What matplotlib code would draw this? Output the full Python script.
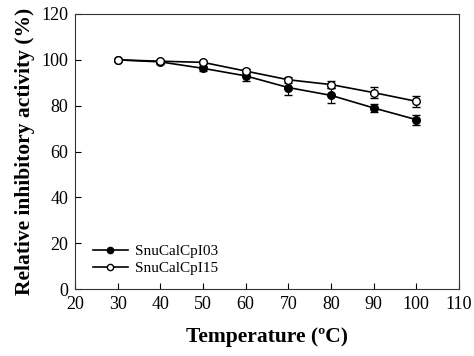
import matplotlib.pyplot as plt
from matplotlib.lines import Line2D

temps = [30, 40, 50, 60, 70, 80, 90, 100]
act_i03 = [100, 99.1, 96.3, 93.0, 87.9, 84.5, 79.0, 73.9]
err_i03 = [0.5, 0.8, 1.0, 2.3, 3.2, 3.4, 1.7, 2.2]
act_i15 = [100, 99.4, 98.9, 95.1, 91.3, 89.2, 85.7, 81.9]
err_i15 = [0.5, 0.6, 0.8, 1.0, 1.2, 1.6, 2.4, 2.5]
labels = ['SnuCalCpI03', 'SnuCalCpI15']

plt.rcParams['font.family'] = ['Liberation Serif', 'DejaVu Serif']

fig = plt.figure(figsize=(4.74, 3.56), dpi=100)
ax = fig.add_axes([75 / 474, 1 - 289 / 356, 384 / 474, 275 / 356])

ax.errorbar(temps, act_i03, yerr=err_i03, color='black', marker='o', markersize=5.5,
            markerfacecolor='black', linewidth=1.2, capsize=3, elinewidth=0.8, zorder=2)
ax.errorbar(temps, act_i15, yerr=err_i15, color='black', marker='o', markersize=5.5,
            markerfacecolor='white', linewidth=1.2, capsize=3, elinewidth=0.8, zorder=3)

ax.set_xlim(20, 110)
ax.set_ylim(0, 120)
ax.set_xticks(range(20, 111, 10))
ax.set_yticks(range(0, 121, 20))
ax.tick_params(direction='in', labelsize=13, length=4, width=0.8, pad=5)
for s in ax.spines.values():
    s.set_linewidth(0.8)
    s.set_color('#333333')

ax.set_xlabel('Temperature (\u00baC)', fontsize=15.5, fontweight='bold', labelpad=10)
ax.set_ylabel('Relative inhibitory activity (%)', fontsize=15.5, fontweight='bold', labelpad=4)

handles = [
    Line2D([], [], color='black', marker='o', markersize=4.5, markerfacecolor='black', linewidth=1.2),
    Line2D([], [], color='black', marker='o', markersize=4.5, markerfacecolor='white', linewidth=1.2),
]
ax.legend(handles, labels, loc='lower left', bbox_to_anchor=(0.01, 0.0), frameon=False,
          fontsize=11, handlelength=2.3, handletextpad=0.5, labelspacing=0.2)

fig.savefig('out.png', dpi=100)
